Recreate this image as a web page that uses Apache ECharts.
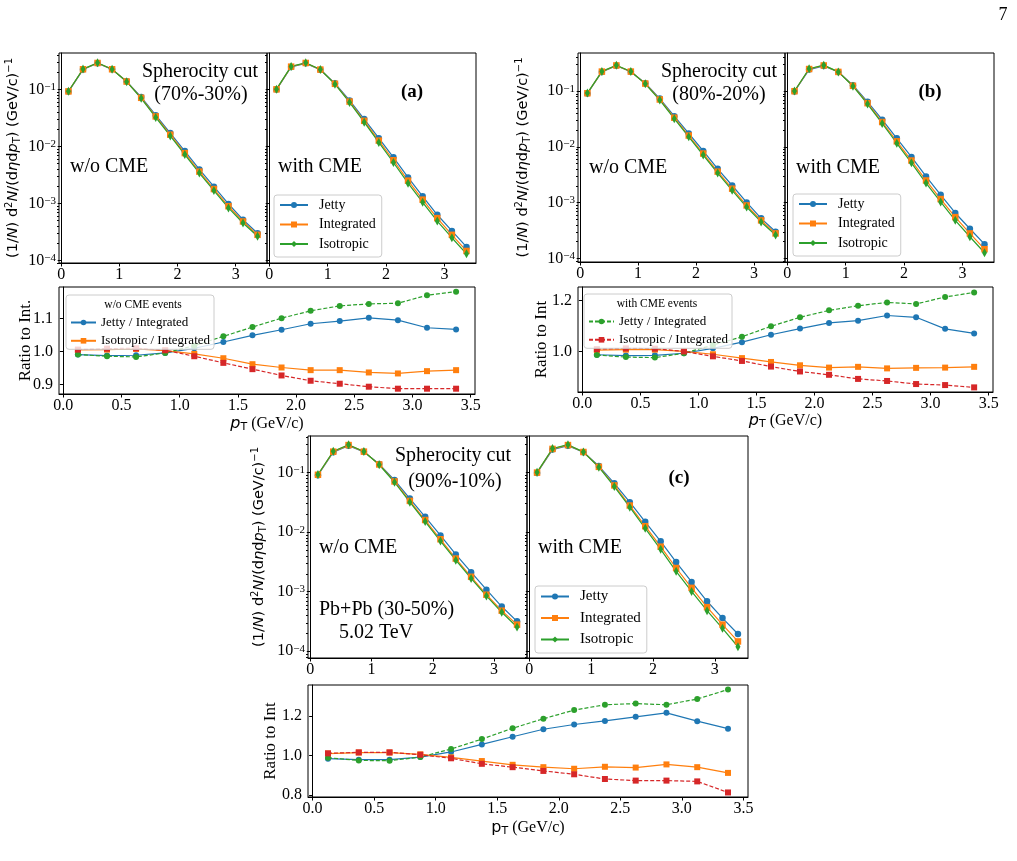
<!DOCTYPE html>
<html>
<head>
<meta charset="utf-8">
<title>Spherocity spectra</title>
<script src="https://cdn.jsdelivr.net/npm/echarts@6.0.0/dist/echarts.min.js"></script>
<style>
  html, body { margin: 0; padding: 0; background: #fff; }
  #chart { width: 1017px; height: 861px; }
</style>
</head>
<body>
<div id="chart"></div>
<script>
// pT bin centres (GeV/c)
const ptBins = [0.125, 0.375, 0.625, 0.875, 1.125, 1.375, 1.625, 1.875, 2.125, 2.375, 2.625, 2.875, 3.125, 3.375];

// integrated spectra (same for every spherocity cut)
const integNoCME = [0.092, 0.225, 0.29, 0.225, 0.137, 0.071, 0.0335, 0.016, 0.0076, 0.0036, 0.00178, 0.00089, 0.00048, 0.00028];
const integCME = [0.10, 0.25, 0.29, 0.222, 0.125, 0.061, 0.028, 0.0126, 0.0057, 0.0025, 0.00116, 0.00055, 0.00028, 0.000146];

// (a) cut 70%-30%
const jettyNoCME_a = [0.0912, 0.2223, 0.2868, 0.2241, 0.1384, 0.0731, 0.0351, 0.01706, 0.00824, 0.00393, 0.00196, 0.000975, 0.000515, 0.000299];
const isoNoCME_a = [0.0925, 0.2264, 0.2923, 0.2257, 0.1360, 0.0696, 0.0322, 0.01523, 0.00717, 0.00340, 0.00167, 0.000831, 0.000452, 0.000264];
const jettyCME_a = [0.0991, 0.2465, 0.2854, 0.2211, 0.1273, 0.0638, 0.0301, 0.01387, 0.00640, 0.00285, 0.00133, 0.000630, 0.000328, 0.000172];
const isoCME_a = [0.1006, 0.2523, 0.2929, 0.2229, 0.1233, 0.0589, 0.0265, 0.01169, 0.00520, 0.00226, 0.00104, 0.000488, 0.000249, 0.000130];

// (b) cut 80%-20%
const jettyNoCME_b = [0.0909, 0.2216, 0.2859, 0.2237, 0.1388, 0.0736, 0.0357, 0.01744, 0.00845, 0.00404, 0.00203, 0.001009, 0.000523, 0.000300];
const isoNoCME_b = [0.0926, 0.2268, 0.2923, 0.2252, 0.1356, 0.0692, 0.0322, 0.01515, 0.00713, 0.00339, 0.00166, 0.000834, 0.000450, 0.000263];
const jettyCME_b = [0.0987, 0.2448, 0.2833, 0.2207, 0.1283, 0.0645, 0.0308, 0.01429, 0.00662, 0.00295, 0.00138, 0.000652, 0.000340, 0.000180];
const isoCME_b = [0.1010, 0.2533, 0.2935, 0.2222, 0.1228, 0.0588, 0.0264, 0.01163, 0.00519, 0.00224, 0.00103, 0.000481, 0.000244, 0.000126];

// (c) cut 90%-10%
const jettyNoCME_c = [0.0904, 0.2201, 0.2836, 0.2230, 0.1393, 0.0749, 0.0366, 0.01811, 0.00879, 0.00423, 0.00213, 0.001081, 0.000563, 0.000318];
const isoNoCME_c = [0.0928, 0.2282, 0.2941, 0.2261, 0.1356, 0.0689, 0.0319, 0.01504, 0.00708, 0.00339, 0.00167, 0.000849, 0.000451, 0.000255];
const jettyCME_c = [0.0988, 0.2435, 0.2822, 0.2200, 0.1290, 0.0660, 0.0318, 0.01493, 0.00701, 0.00314, 0.00146, 0.000691, 0.000360, 0.000195];
const isoCME_c = [0.1010, 0.2538, 0.2944, 0.2227, 0.1231, 0.0584, 0.0263, 0.01160, 0.00515, 0.00220, 0.00101, 0.000480, 0.000243, 0.000119];

// ratios to integrated
const rJettyNoCME_a = [0.991, 0.988, 0.989, 0.996, 1.010, 1.029, 1.049, 1.066, 1.084, 1.092, 1.102, 1.095, 1.072, 1.067];
const rIsoNoCME_a = [1.005, 1.006, 1.008, 1.003, 0.993, 0.980, 0.962, 0.952, 0.944, 0.944, 0.937, 0.934, 0.941, 0.944];
const rJettyCME_a = [0.991, 0.986, 0.984, 0.996, 1.018, 1.046, 1.074, 1.101, 1.123, 1.138, 1.144, 1.146, 1.170, 1.181];
const rIsoCME_a = [1.006, 1.009, 1.010, 1.004, 0.986, 0.966, 0.947, 0.928, 0.912, 0.903, 0.894, 0.888, 0.888, 0.888];

const rJettyNoCME_b = [0.988, 0.985, 0.986, 0.994, 1.013, 1.037, 1.066, 1.090, 1.112, 1.121, 1.141, 1.134, 1.089, 1.071];
const rIsoNoCME_b = [1.006, 1.008, 1.008, 1.001, 0.990, 0.975, 0.960, 0.947, 0.938, 0.941, 0.935, 0.937, 0.938, 0.941];
const rJettyCME_b = [0.987, 0.979, 0.977, 0.994, 1.026, 1.058, 1.099, 1.134, 1.161, 1.179, 1.192, 1.186, 1.213, 1.231];
const rIsoCME_b = [1.010, 1.013, 1.012, 1.001, 0.982, 0.964, 0.942, 0.923, 0.910, 0.894, 0.886, 0.874, 0.870, 0.861];

const rJettyNoCME_c = [0.983, 0.978, 0.978, 0.991, 1.017, 1.055, 1.094, 1.132, 1.156, 1.174, 1.195, 1.215, 1.173, 1.135];
const rIsoNoCME_c = [1.009, 1.014, 1.014, 1.005, 0.990, 0.971, 0.952, 0.940, 0.932, 0.942, 0.938, 0.954, 0.940, 0.911];
const rJettyCME_c = [0.988, 0.974, 0.973, 0.991, 1.032, 1.082, 1.137, 1.185, 1.229, 1.256, 1.262, 1.256, 1.285, 1.333];
const rIsoCME_c = [1.010, 1.015, 1.015, 1.003, 0.985, 0.957, 0.940, 0.921, 0.904, 0.880, 0.872, 0.872, 0.868, 0.812];

// tick labels
const logTicks = [1e-4, 1e-3, 1e-2, 1e-1];
const specXTicks = [0, 1, 2, 3];
const ratioXTicks = [0, 0.5, 1, 1.5, 2, 2.5, 3, 3.5];
const ratioYTicks_a = [0.9, 1.0, 1.1];
const ratioYTicks_b = [1.0, 1.2];
const ratioYTicks_c = [0.8, 1.0, 1.2];

const C_BLUE = '#1f77b4', C_ORANGE = '#ff7f0e', C_GREEN = '#2ca02c', C_RED = '#d62728';
const serif = 'Liberation Serif';
const sans = 'DejaVu Sans';

// minor ticks of the log axes (2..9 x 10^n)
const logMinor = [];
for (let e = -5; e <= 0; e++) {
  for (let m = 2; m <= 9; m++) logMinor.push(+(m * Math.pow(10, e)).toPrecision(3));
}

const panels = [
  {
    spec: [59, 53, 208, 210], specW2: 209, ratio: [59, 287, 416, 107],
    logRange: [8.97e-5, 0.434], ratioRange: [0.872, 1.195], ratioTicks: ratioYTicks_a,
    ratioName: 'Ratio to Int.', ptItalic: true, specGap: 37, ratioGap: 23.5, xNameGap: 20.5,
    legendPos: [274, 195], legendGap: 5.5, legendFont: 14,
    ratioLegend: { pos: [66, 295], title: 'w/o CME events', titlePos: [143, 305], cme: false },
    jw: jettyNoCME_a, iw: isoNoCME_a, jc: jettyCME_a, ic: isoCME_a,
    rjw: rJettyNoCME_a, riw: rIsoNoCME_a, rjc: rJettyCME_a, ric: rIsoCME_a
  },
  {
    spec: [578, 53, 207, 209], specW2: 209, ratio: [578, 287, 415, 105],
    logRange: [8.6e-5, 0.485], ratioRange: [0.843, 1.252], ratioTicks: ratioYTicks_b,
    ratioName: 'Ratio to Int', ptItalic: true, specGap: 46, ratioGap: 26, xNameGap: 19.5,
    legendPos: [793, 194], legendGap: 5.5, legendFont: 14,
    ratioLegend: { pos: [584, 294], title: 'with CME events', titlePos: [657, 304], cme: true },
    jw: jettyNoCME_b, iw: isoNoCME_b, jc: jettyCME_b, ic: isoCME_b,
    rjw: rJettyNoCME_b, riw: rIsoNoCME_b, rjc: rJettyCME_b, ric: rIsoCME_b
  },
  {
    spec: [308, 436, 219, 222], specW2: 221, ratio: [308, 685, 440, 112],
    logRange: [7.7e-5, 0.412], ratioRange: [0.789, 1.356], ratioTicks: ratioYTicks_c,
    ratioName: 'Ratio to Int', ptItalic: false, specGap: 40, ratioGap: 27, xNameGap: 21.5,
    legendPos: [535, 586], legendGap: 6.5, legendFont: 15,
    ratioLegend: null,
    jw: jettyNoCME_c, iw: isoNoCME_c, jc: jettyCME_c, ic: isoCME_c,
    rjw: rJettyNoCME_c, riw: rIsoNoCME_c, rjc: rJettyCME_c, ric: rIsoCME_c
  }
];

// free text on the panels
const notes = [
  ['Spherocity cut', 200, 72, 'center'], ['(70%-30%)', 201, 95, 'center'],
  ['w/o CME', 70, 167, 'left'], ['with CME', 278, 167, 'left'],
  ['Spherocity cut', 719, 72, 'center'], ['(80%-20%)', 719, 95, 'center'],
  ['w/o CME', 589, 168, 'left'], ['with CME', 796, 168, 'left'],
  ['Spherocity cut', 453, 456, 'center'], ['(90%-10%)', 455, 482, 'center'],
  ['w/o CME', 319, 548, 'left'], ['with CME', 538, 548, 'left'],
  ['Pb+Pb (30-50%)', 319, 610, 'left'], ['5.02 TeV', 339, 633, 'left']
];
const tags = [['(a)', 412, 92], ['(b)', 930, 92], ['(c)', 679, 478]];

const grids = [], xAxes = [], yAxes = [], series = [], legends = [], graphics = [];
const black = { color: '#000', width: 1 };

function logLabel(v) {
  const e = Math.log10(v);
  if (Math.abs(e - Math.round(e)) > 0.01) return '';
  const n = Math.round(e);
  return '10{s|' + (n < 0 ? '\u2212' : '') + Math.abs(n) + '}';
}

function addGrid(r) {
  grids.push({ left: r[0], top: r[1], width: r[2], height: r[3], show: true,
    borderColor: '#000', borderWidth: 1, backgroundColor: 'transparent' });
  return grids.length - 1;
}

function addX(gi, ticks, fmt, name, nameGap, italic) {
  const ax = {
    type: 'value', gridIndex: gi, min: -0.0375, max: 3.5375,
    axisLine: { show: true, onZero: false, lineStyle: black },
    axisTick: { show: true, length: 3.5, customValues: ticks, lineStyle: black },
    axisLabel: { customValues: ticks, color: '#000', fontFamily: serif, fontSize: 16, margin: 4, formatter: fmt },
    splitLine: { show: false }
  };
  if (name) {
    ax.name = '{p|p}{t|T} (GeV/c)';
    ax.nameLocation = 'middle';
    ax.nameGap = nameGap;
    ax.nameMoveOverlap = false;
    ax.nameTextStyle = {
      fontFamily: serif, fontSize: 16, color: '#000', lineHeight: 18,
      rich: {
        p: { fontFamily: sans, fontStyle: italic ? 'italic' : 'normal', fontSize: 16, lineHeight: 18 },
        t: { fontFamily: sans, fontSize: 11, lineHeight: 11, verticalAlign: 'bottom' }
      }
    };
  }
  xAxes.push(ax);
  return xAxes.length - 1;
}

function addLogY(gi, range, withLabels, nameGap) {
  const ax = {
    type: 'log', logBase: 10, gridIndex: gi, position: 'left', min: range[0], max: range[1],
    axisLine: { show: true, lineStyle: black },
    axisTick: { show: true, length: 3.5, customValues: logTicks, lineStyle: black },
    axisLabel: withLabels ? {
      customValues: logTicks, color: '#000', fontFamily: serif, fontSize: 16, margin: 3, formatter: logLabel,
      rich: { s: { fontFamily: serif, fontSize: 11, lineHeight: 11, verticalAlign: 'top' } }
    } : { show: false },
    splitLine: { show: false }
  };
  if (withLabels) {
    ax.name = '(1/{i|N}) d{u|2}{i|N}/(d{i|\u03b7}d{i|p}{d|T}) (GeV/c){u|\u22121}';
    ax.nameLocation = 'middle';
    ax.nameRotate = 90;
    ax.nameGap = nameGap;
    ax.nameMoveOverlap = false;
    ax.nameTextStyle = {
      fontFamily: sans, fontSize: 14.5, color: '#000', lineHeight: 18,
      rich: {
        i: { fontFamily: sans, fontStyle: 'italic', fontSize: 14.5, lineHeight: 18 },
        u: { fontFamily: sans, fontSize: 10, lineHeight: 10, verticalAlign: 'top' },
        d: { fontFamily: sans, fontSize: 10, lineHeight: 10, verticalAlign: 'bottom' }
      }
    };
  }
  yAxes.push(ax);
  const main = yAxes.length - 1;
  // second axis carrying only the minor ticks
  yAxes.push({
    type: 'log', logBase: 10, gridIndex: gi, position: 'left', offset: 0, min: range[0], max: range[1],
    axisLine: { show: false },
    axisTick: { show: true, length: 2, customValues: logMinor.filter(v => v > range[0] && v < range[1]), lineStyle: black },
    axisLabel: { show: false }, splitLine: { show: false }
  });
  return main;
}

function addLinY(gi, range, ticks, name, nameGap) {
  yAxes.push({
    type: 'value', gridIndex: gi, position: 'left', min: range[0], max: range[1],
    axisLine: { show: true, lineStyle: black },
    axisTick: { show: true, length: 3.5, customValues: ticks, lineStyle: black },
    axisLabel: { customValues: ticks, color: '#000', fontFamily: serif, fontSize: 16, margin: 6, formatter: v => v.toFixed(1) },
    splitLine: { show: false },
    name: name, nameLocation: 'middle', nameRotate: 90, nameGap: nameGap, nameMoveOverlap: false,
    nameTextStyle: { fontFamily: serif, fontSize: 17, color: '#000', lineHeight: 20 }
  });
  return yAxes.length - 1;
}

function lineSeries(name, vals, xi, yi, color, symbol, size, dashed) {
  series.push({
    type: 'line', name: name, xAxisIndex: xi, yAxisIndex: yi,
    data: ptBins.map((p, i) => [p, vals[i]]),
    symbol: symbol, symbolSize: size, showSymbol: true,
    lineStyle: { color: color, width: 1.2, type: dashed ? [4, 2] : 'solid' },
    itemStyle: { color: color, borderWidth: 0 },
    emphasis: { disabled: true }, silent: true
  });
}

const legendBox = {
  orient: 'vertical', selectedMode: false,
  backgroundColor: 'rgba(255,255,255,0.8)', borderColor: '#cccccc', borderWidth: 1, borderRadius: 3
};

panels.forEach(p => {
  // spectra, w/o CME
  const g1 = addGrid(p.spec);
  const x1 = addX(g1, specXTicks, v => String(v));
  const y1 = addLogY(g1, p.logRange, true, p.specGap);
  lineSeries('Jetty', p.jw, x1, y1, C_BLUE, 'circle', 6.5);
  lineSeries('Integrated', integNoCME, x1, y1, C_ORANGE, 'rect', 6.5);
  lineSeries('Isotropic', p.iw, x1, y1, C_GREEN, 'diamond', [5, 9]);

  // spectra, with CME
  const g2 = addGrid([p.spec[0] + p.spec[2], p.spec[1], p.specW2, p.spec[3]]);
  const x2 = addX(g2, specXTicks, v => String(v));
  const y2 = addLogY(g2, p.logRange, false);
  lineSeries('Jetty', p.jc, x2, y2, C_BLUE, 'circle', 6.5);
  lineSeries('Integrated', integCME, x2, y2, C_ORANGE, 'rect', 6.5);
  lineSeries('Isotropic', p.ic, x2, y2, C_GREEN, 'diamond', [5, 9]);

  legends.push(Object.assign({}, legendBox, {
    left: p.legendPos[0], top: p.legendPos[1],
    itemWidth: 28, itemHeight: 7.5, itemGap: p.legendGap, padding: [3, 6, 6, 5],
    textStyle: { fontFamily: serif, fontSize: p.legendFont, color: '#000', lineHeight: 14, padding: [0, 0, 0, 6] },
    data: ['Jetty', 'Integrated', 'Isotropic']
  }));

  // ratio panel
  const g3 = addGrid(p.ratio);
  const x3 = addX(g3, ratioXTicks, v => v.toFixed(1), true, p.xNameGap, p.ptItalic);
  const y3 = addLinY(g3, p.ratioRange, p.ratioTicks, p.ratioName, p.ratioGap);
  lineSeries('noCME|Jetty / Integrated', p.rjw, x3, y3, C_BLUE, 'circle', 6);
  lineSeries('noCME|Isotropic / Integrated', p.riw, x3, y3, C_ORANGE, 'rect', 6);
  lineSeries('CME|Jetty / Integrated', p.rjc, x3, y3, C_GREEN, 'circle', 6, true);
  lineSeries('CME|Isotropic / Integrated', p.ric, x3, y3, C_RED, 'rect', 6, true);

  if (p.ratioLegend) {
    const pre = p.ratioLegend.cme ? 'CME|' : 'noCME|';
    legends.push(Object.assign({}, legendBox, {
      left: p.ratioLegend.pos[0], top: p.ratioLegend.pos[1],
      itemWidth: 25, itemHeight: 7, itemGap: 5.3, padding: [21, 4, 2, 4],
      textStyle: { fontFamily: serif, fontSize: 13, color: '#000', lineHeight: 13 },
      formatter: n => n.split('|')[1],
      data: [pre + 'Jetty / Integrated', pre + 'Isotropic / Integrated']
    }));
    graphics.push({
      type: 'text', x: p.ratioLegend.titlePos[0], y: p.ratioLegend.titlePos[1], z: 100,
      style: { text: p.ratioLegend.title, fill: '#000', fontFamily: serif, fontSize: 11.5,
        align: 'center', verticalAlign: 'middle', textAlign: 'center', textVerticalAlign: 'middle' }
    });
  }
});

notes.forEach(n => {
  graphics.push({
    type: 'text', x: n[1], y: n[2], z: 100,
    style: { text: n[0], fill: '#000', fontFamily: serif, fontSize: 20,
      align: n[3], verticalAlign: 'middle', textAlign: n[3], textVerticalAlign: 'middle' }
  });
});
tags.forEach(t => {
  graphics.push({
    type: 'text', x: t[1], y: t[2], z: 100,
    style: { text: t[0], fill: '#000', fontFamily: serif, fontSize: 19, fontWeight: 'bold',
      align: 'center', verticalAlign: 'middle', textAlign: 'center', textVerticalAlign: 'middle' }
  });
});
// page number
graphics.push({
  type: 'text', x: 1003, y: 15, z: 100,
  style: { text: '7', fill: '#000', fontFamily: serif, fontSize: 18,
    align: 'center', verticalAlign: 'middle', textAlign: 'center', textVerticalAlign: 'middle' }
});

const chart = echarts.init(document.getElementById('chart'), null, { renderer: 'canvas' });
chart.setOption({
  animation: false,
  backgroundColor: '#fff',
  grid: grids,
  xAxis: xAxes,
  yAxis: yAxes,
  legend: legends,
  series: series,
  graphic: graphics
});
</script>
</body>
</html>
